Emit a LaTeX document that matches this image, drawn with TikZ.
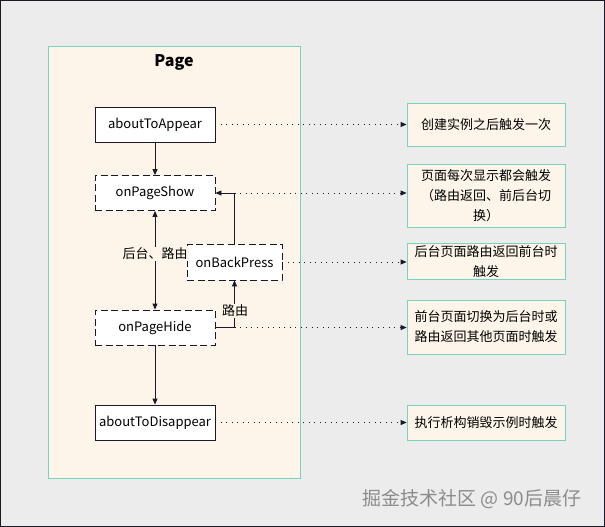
\documentclass[tikz,border=0pt]{standalone}
\usepackage{fontspec}
\setmainfont{Noto Sans CJK SC}
\usetikzlibrary{arrows.meta, positioning}
\definecolor{mydark}{RGB}{25,25,40}
\definecolor{myteal}{RGB}{120,210,190}
\definecolor{mycream}{RGB}{253,245,233}
\definecolor{mygray}{RGB}{236,236,236}
\definecolor{mymark}{RGB}{140,140,140}
\tikzset{
  hook/.style={rectangle, draw=mydark, fill=white, minimum width=120pt, minimum height=35pt, inner sep=0pt, font=\fontsize{13}{16}\selectfont, line width=0.8pt},
  dashhook/.style={hook, dash pattern=on 7pt off 3.5pt},
  note/.style={rectangle, draw=myteal, fill=mycream, minimum width=158pt, text width=150pt, inner sep=2pt, align=center, font=\fontsize{13}{20}\selectfont, line width=0.8pt},
  arrow/.style={-{Triangle[length=6pt,width=5pt]}, line width=0.8pt, color=mydark},
  dotarrow/.style={-{Triangle[length=6pt,width=5pt]}, line width=0.8pt, color=mydark, dash pattern=on 1pt off 4.5pt},
  tag/.style={fill=mycream, inner sep=1pt, font=\fontsize{13}{16}\selectfont}
}

\begin{document}
\begin{tikzpicture}[x=1pt, y=-1pt]
  \useasboundingbox (0,0) rectangle (605,527);
  % Background and frame
  \draw[fill=mygray, draw=mydark, line width=1.2pt] (0.8,0.8) rectangle (604.2,526.2);
  \draw[fill=mycream, draw=myteal, line width=0.8pt] (48,46) rectangle (300,478);
  \node[font=\fontsize{16}{18}\selectfont\bfseries] (title) at (174,62) {Page};

  % Lifecycle hooks
  \node[hook] (appear) at (155,124.5) {aboutToAppear};
  \node[dashhook] (show) at (155,193) {onPageShow};
  \node[dashhook, minimum width=95pt, minimum height=36pt] (back) at (234.5,262) {onBackPress};
  \node[dashhook] (hide) at (155,327.5) {onPageHide};
  \node[hook] (disappear) at (155,422.5) {aboutToDisappear};

  \coordinate (showturn) at (back.north |- show.east);
  \coordinate (hideturn) at (back.south |- hide.east);

  % Flow between hooks
  \draw[arrow] (appear) -- (show);
  \draw[arrow, {Triangle[length=6pt,width=5pt]}-{Triangle[length=6pt,width=5pt]}] (show) -- (hide);
  \node[tag] (bgroute) at (155,254) {后台、路由};
  \draw[arrow] (back.north) -- (showturn) -- (show.east);
  \draw[arrow] (hide.east) -- (hideturn) -- (back.south);
  \node[tag] (route) at (235,311) {路由};
  \draw[arrow] (hide) -- (disappear);

  % Notes
  \node[note, minimum height=43pt] (n1) at (486,124.5) {创建实例之后触发一次};
  \node[note, minimum height=63pt] (n2) at (486,195.5) {页面每次显示都会触发\\（路由返回、前后台切\\换）};
  \node[note, minimum height=35pt] (n3) at (486,261.5) {后台页面路由返回前台时\\触发};
  \node[note, minimum height=54pt] (n4) at (486,327) {前台页面切换为后台时或\\路由返回其他页面时触发};
  \node[note, minimum height=35pt] (n5) at (486,422.5) {执行析构销毁示例时触发};

  \draw[dotarrow] (appear.east) -- (appear.east -| n1.west);
  \draw[dotarrow] (showturn) -- (showturn -| n2.west);
  \draw[dotarrow] (back.east) -- (back.east -| n3.west);
  \draw[dotarrow] (hideturn) -- (hideturn -| n4.west);
  \draw[dotarrow] (disappear.east) -- (disappear.east -| n5.west);

  % Watermark
  \node[mymark, font=\fontsize{19}{22}\selectfont] (mark) at (472,499) {掘金技术社区 @ 90后晨仔};
\end{tikzpicture}
\end{document}
